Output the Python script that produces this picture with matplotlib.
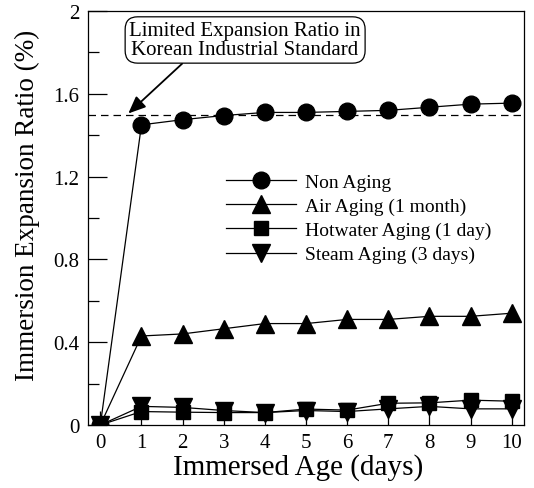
import matplotlib
matplotlib.use("Agg")
import matplotlib.pyplot as plt
from matplotlib.ticker import MultipleLocator, FixedLocator

days = [0, 1, 2, 3, 4, 5, 6, 7, 8, 9, 10]
non_aging = [0.0, 1.45, 1.475, 1.495, 1.51, 1.51, 1.515, 1.52, 1.535, 1.55, 1.555]
air_aging = [0.0, 0.43, 0.44, 0.465, 0.49, 0.49, 0.51, 0.51, 0.525, 0.525, 0.54]
hotwater_aging = [0.0, 0.065, 0.062, 0.06, 0.06, 0.077, 0.072, 0.105, 0.107, 0.12, 0.115]
steam_aging = [0.0, 0.09, 0.085, 0.07, 0.06, 0.07, 0.065, 0.078, 0.09, 0.078, 0.078]
labels = ["Non Aging", "Air Aging (1 month)", "Hotwater Aging (1 day)", "Steam Aging (3 days)"]
limit_value = 1.5
annot_text = "Limited Expansion Ratio in\nKorean Industrial Standard"

plt.rcParams['font.family'] = ['Liberation Serif', 'DejaVu Serif']

fig = plt.figure(figsize=(5.34, 4.89), dpi=100)
ax = fig.add_axes([88/534, 63/489, (524-88)/534, (426-12)/489])

lw = 0.9
ax.plot(days, non_aging, color='black', lw=lw, marker='o', ms=12, label=labels[0], zorder=3)
ax.plot(days, air_aging, color='black', lw=lw, marker='^', ms=12.5, label=labels[1], zorder=3)
ax.plot(days, hotwater_aging, color='black', lw=lw, marker='s', ms=10.5, label=labels[2], zorder=3)
ax.plot(days, steam_aging, color='black', lw=lw, marker='v', ms=12.5, label=labels[3], zorder=3)

ax.axhline(limit_value, color='black', lw=0.9, ls=(0, (6, 4)), zorder=2)

ax.annotate(annot_text, xy=(0.68, limit_value + 0.005), xytext=(3.52, 1.86),
            ha='center', va='center', fontsize=15, linespacing=1.0,
            bbox=dict(boxstyle='round,pad=0.2,rounding_size=0.6', fc='white', ec='black', lw=0.9),
            arrowprops=dict(arrowstyle='-|>,head_length=0.7,head_width=0.3', color='black', lw=1.3,
                            shrinkA=0, shrinkB=0, relpos=(0.25, 0.0)))

ax.set_xlim(-0.3, 10.3)
ax.set_ylim(0, 2)
ax.xaxis.set_major_locator(FixedLocator(days))
ax.set_yticks([0, 0.4, 0.8, 1.2, 1.6, 2.0])
ax.set_yticklabels(['0', '0.4', '0.8', '1.2', '1.6', '2'])
ax.yaxis.set_minor_locator(MultipleLocator(0.2))
ax.tick_params(axis='y', which='major', direction='in', length=14, width=0.9, labelsize=15, pad=6)
ax.tick_params(axis='y', which='minor', direction='in', length=8, width=0.9)
ax.tick_params(axis='x', which='major', direction='in', length=10, width=0.9, labelsize=15, pad=6)
for s in ax.spines.values():
    s.set_linewidth(0.9)

ax.set_xlabel("Immersed Age (days)", fontsize=21)
ax.set_ylabel("Immersion Expansion Ratio (%)", fontsize=19.5)
ax.xaxis.set_label_coords((298 - 88) / 436, -(468 - 426) / 414)
ax.yaxis.set_label_coords(-(88 - 27) / 436, (426 - 205) / 414)
ax.xaxis.label.set_va('center')
ax.yaxis.label.set_va('center')

leg = ax.legend(loc='upper left', bbox_to_anchor=(226/534, 1 - 174/489), bbox_transform=fig.transFigure,
                frameon=False, fontsize=14, handlelength=3.6, handletextpad=0.45,
                labelspacing=0.34, borderpad=0, borderaxespad=0, numpoints=1)

fig.savefig("out.png", dpi=100)
